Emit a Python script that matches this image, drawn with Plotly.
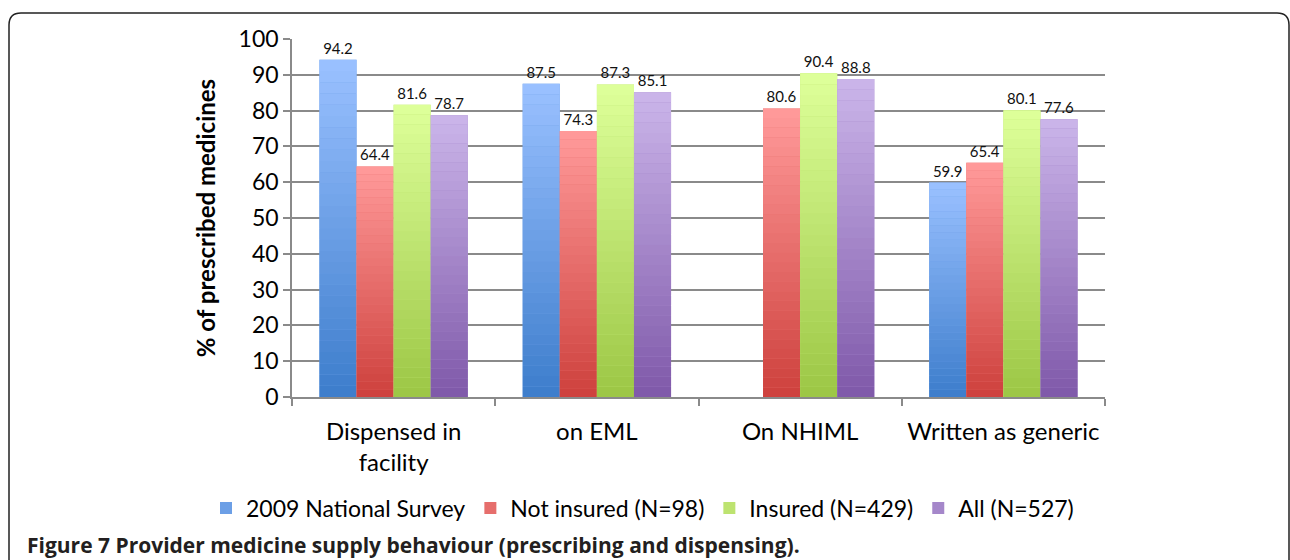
import plotly.graph_objects as go

categories = ["Dispensed in<br>facility", "on EML", "On NHIML", "Written as generic"]
series_names = ["2009 National Survey", "Not insured (N=98)", "Insured (N=429)", "All (N=527)"]
national_2009 = [94.2, 87.5, None, 59.9]
not_insured = [64.4, 74.3, 80.6, 65.4]
insured = [81.6, 87.3, 90.4, 80.1]
all_providers = [78.7, 85.1, 88.8, 77.6]
y_ticks = [0, 10, 20, 30, 40, 50, 60, 70, 80, 90, 100]

series_values = [national_2009, not_insured, insured, all_providers]
# (top colour, bottom colour) for each series gradient
grad = [
    ((153, 192, 255), (62, 126, 204)),
    ((255, 153, 153), (206, 66, 62)),
    ((221, 255, 153), (157, 199, 70)),
    ((202, 180, 233), (128, 90, 170)),
]

W, H = 1290, 560
L, R, T, B = 292, 1105, 39, 397

def px_x(x):
    return (x - L) / (R - L)

def px_y(y):
    return (B - y) / (B - T)

def rgb(c):
    return "rgb(%d,%d,%d)" % tuple(int(round(v)) for v in c)

fig = go.Figure()
K = 30
for name, vals, (top, bot) in zip(series_names, series_values, grad):
    mid = tuple((a + b) / 2 for a, b in zip(top, bot))
    fig.add_trace(go.Bar(
        x=categories, y=vals,
        name=name, offsetgroup=name, marker=dict(color=rgb(mid), line=dict(width=0)),
        text=["" if v is None else "%.1f" % v for v in vals],
        textposition="outside", cliponaxis=False, constraintext="none",
        textfont=dict(family="Lato, Open Sans, sans-serif", size=15, color="#111111"),
        hoverinfo="skip",
    ))
    for k in range(K):
        t = k / (K - 1)
        col = tuple(b + (a - b) * t for a, b in zip(top, bot))
        seg_h = [None if v is None else v / K for v in vals]
        seg_b = [None if v is None else v * k / K for v in vals]
        fig.add_trace(go.Bar(
            x=categories, y=seg_h, base=seg_b, offsetgroup=name,
            marker=dict(color=rgb(col), line=dict(width=0)),
            showlegend=False, hoverinfo="skip",
        ))

# rounded frame box
x0, x1 = px_x(9), px_x(1289)
y0, y1 = px_y(13), px_y(600)
rx, ry = 12 / (R - L), 12 / (B - T)
path = (f"M {x0+rx},{y0} L {x1-rx},{y0} Q {x1},{y0} {x1},{y0-ry} "
        f"L {x1},{y1} L {x0},{y1} L {x0},{y0-ry} Q {x0},{y0} {x0+rx},{y0} Z")
fig.add_shape(type="path", path=path, xref="paper", yref="paper",
              line=dict(color="#222222", width=1.5), fillcolor="rgba(0,0,0,0)", layer="below")

fig.add_annotation(
    x=px_x(25), y=px_y(545), xref="paper", yref="paper", xanchor="left", yanchor="middle",
    text="<b>Figure 7</b> <b>Provider medicine supply behaviour (prescribing and dispensing).</b>",
    showarrow=False, font=dict(family="Open Sans, sans-serif", size=21, color="#231f20"),
)

fig.update_layout(
    width=W, height=H,
    margin=dict(l=L, r=W - R, t=T, b=H - B, autoexpand=False),
    paper_bgcolor="white", plot_bgcolor="white",
    barmode="group", bargap=0.27, bargroupgap=0,
    font=dict(family="Lato, Open Sans, sans-serif", color="#000000"),
    legend=dict(orientation="h", x=px_x(206), xanchor="left", y=px_y(508), yanchor="middle",
                font=dict(size=23), traceorder="normal", itemwidth=30,
                bgcolor="rgba(0,0,0,0)"),
    showlegend=True,
)
fig.update_yaxes(
    range=[0, 100], tickvals=y_ticks, showgrid=True, gridcolor="#8a8a8a", gridwidth=1.5,
    showline=True, linecolor="#8a8a8a", linewidth=1.5,
    ticks="outside", ticklen=7, tickcolor="#8a8a8a", tickwidth=1.5,
    tickfont=dict(size=23, family="Lato, Open Sans, sans-serif"),
    title=dict(text="<b>% of prescribed medicines</b>", font=dict(size=24), standoff=16),
    zeroline=False,
)
fig.update_xaxes(
    showline=True, linecolor="#8a8a8a", linewidth=1.5,
    ticks="outside", ticklen=7, tickcolor="#8a8a8a", tickwidth=1.5, tickson="boundaries",
    tickfont=dict(size=24, family="Lato, Open Sans, sans-serif"), ticklabelstandoff=12,
    showgrid=False,
)

fig.write_html("out.html", config={"displayModeBar": False},
               post_script="document.body.style.margin='0';document.body.style.overflow='hidden';")
